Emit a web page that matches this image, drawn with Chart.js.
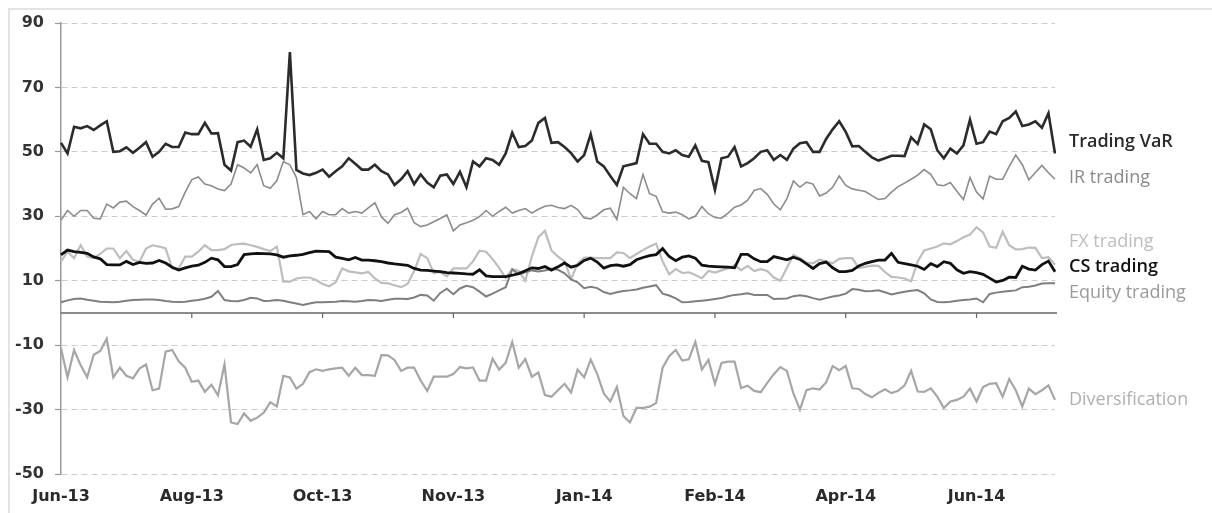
<!DOCTYPE html>
<html><head><meta charset="utf-8">
<script src="https://cdn.jsdelivr.net/npm/chart.js@4.4.1/dist/chart.umd.min.js"></script>
<style>
html,body{margin:0;padding:0;background:#fff;}
#wrap{position:relative;width:1212px;height:513px;overflow:hidden;}
#frame{position:absolute;left:8px;top:8px;width:1230px;height:530px;border-top:2px solid #e3e3e3;border-left:2px solid #e3e3e3;pointer-events:none;}
canvas{position:absolute;left:0;top:0;}
</style></head><body>
<div id="wrap"><canvas id="c" width="1212" height="513"></canvas><div id="frame"></div></div>
<script>
const tickLabels = ['Jun-13','Aug-13','Oct-13','Nov-13','Jan-14','Feb-14','Apr-14','Jun-14'];
const pointsPerTick = 20;

const tradingVaR = [
52.8,49.5,57.8,57.3,58,56.8,58.2,59.5,50,50.2,
51.4,49.7,51.3,53,48.5,50,52.5,51.5,51.5,56,
55.5,55.5,59,55.7,55.8,46,44.2,53,53.5,51.6,
57,47.5,48,49.7,48,81,44.4,43.3,42.8,43.5,
44.5,42.3,44,45.5,48,46.3,44.5,44.5,46,44,
43,39.7,41.5,44,40,43,40.5,39,42.6,43,
40,43.8,39,47,45.5,48,47.5,46,49.5,56,
51.5,51.8,53.5,59,60.5,52.8,53,51.5,49.6,47,
49,55.5,47,45.5,42.5,39.7,45.5,46,46.5,55.5,
52.5,52.5,50,49.5,50.5,49,48.5,52,47.2,46.8,
38.2,48,48.5,51.5,45.5,46.5,48,50,50.5,47.5,
49,47.5,51,52.7,53,50,50,54,57,59.5,
56.2,51.7,51.8,50,48.3,47.3,48,48.8,48.8,48.7,
54.5,52.5,58.5,57,50.5,48,51,49.5,52,60,
52.5,53,56.3,55.5,59.5,60.5,62.5,58,58.5,59.5,
57.5,62,49.5];

const irTrading = [
28.8,31.8,30,31.8,31.8,29.4,29.2,33.8,32.6,34.4,
34.7,33,31.8,30.4,33.8,35.6,32.2,32.3,33,37.5,
41.4,42.2,40,39.5,38.5,38,40,46,45,43.5,
46,39.5,38.7,41,47,46,42,30.5,31.5,29.2,
31.5,30.5,30.5,32.4,31,31.5,31,32.6,34.2,29.8,
27.8,30.5,31.2,32.5,28,26.8,27.3,28.3,29.3,30.4,
25.5,27.3,28,28.8,29.9,31.8,30,31.5,32.8,31,
31.8,32.4,31,32.2,33.1,33.4,32.7,32.4,33.4,32.1,
29.5,29.2,30.4,32,32.5,29,39,37,35.5,43,
37,36.2,31.4,31,31.3,30.5,29.2,30,33,30.8,
29.6,29.4,31,32.8,33.5,35,38,38.6,36.8,33.8,
32,35.5,41,39,40.6,40,36.3,37.2,39,42.5,
39.6,38.5,38.1,37.7,36.4,35.2,35.5,37.5,39.2,40.3,
41.5,42.8,44.5,43,39.8,39.5,40.5,37.8,35.2,42,
37.5,35.4,42.5,41.5,41.5,45.5,49,46,41.3,43.6,
45.8,43.5,41.5];

const fxTrading = [
15.9,19,17,21,17.5,17,18.3,20,20,17,
19.2,16.5,15.9,20,21,20.6,20,13.8,13.8,17.5,
17.5,19,21,19.5,19.5,19.8,21.1,21.4,21.5,21,
20.5,19.8,19.2,20.6,9.7,9.7,10.7,11,11,10.2,
9,8.3,9.5,13.8,12.9,12.6,12.3,12.7,10.7,9.3,
9.2,8.6,8,9,13,18.3,17,12.4,12.7,11.4,
13.8,13.8,13.8,16,19.3,19,16.7,14,10.8,13.6,
13,10,17.5,23.5,25.5,19.4,17.5,16,10.5,15.3,
17.2,17.2,17,17,17,18.8,18.6,17,18.3,19.5,
20.6,21.5,16,12,13.6,12.4,12.6,11.8,10.8,13,
12.5,13.2,13.9,14.8,13.3,14.6,13,13.6,13,11,
10,14,18,17,15.6,15.4,16.5,16,15.4,16.8,
17,17,13.9,14.3,14.7,14.6,12.7,11.2,11,10.7,
9.8,16,19.4,20,20.6,21.6,21.3,22.3,23.5,24.3,
26.6,25,20.6,20.2,25.2,21,19.7,19.8,20.3,20.2,
17,17.3,15];

const csTrading = [
18,19.5,19,18.8,18.5,17.4,16.8,15,14.9,14.9,
16,15,15.7,15.4,15.5,16.3,15.5,14.2,13.3,14,
14.5,14.8,15.7,17,16.5,14.4,14.4,15,18.1,18.3,
18.5,18.4,18.3,18,17.3,17.7,17.9,18.2,18.7,19.2,
19.1,19,17.3,16.9,16.5,17.2,16.4,16.4,16.2,15.9,
15.5,15.2,15,14.8,13.8,13.3,13.2,13,12.8,12.5,
12.4,12.3,12.1,12,13.4,11.5,11.3,11.3,11.3,11.7,
12.2,13.1,14,13.8,14.4,13.3,14.3,15.5,14.2,14.8,
16.3,17,15.8,13.9,14.7,14.9,14.5,15,16.5,17.2,
17.8,18.1,20,17.5,16.2,17.3,17.7,17,14.8,14.5,
14.4,14.3,14.2,14,18.2,18.2,16.8,15.9,15.9,17.5,
17,16.5,17.3,16.6,15.2,13.8,15.3,15.8,14,12.8,
12.8,13.2,14.6,15.4,15.9,16.4,16.4,18.5,15.7,15.3,
14.9,14.5,13.5,15.3,14.4,15.9,15.4,13.4,12.3,12.8,
12.5,12,10.8,9.6,10.1,11.1,11,14.5,13.6,13.3,
15,16.1,12.8];

const equityTrading = [
3.3,3.9,4.3,4.5,4.1,3.8,3.5,3.4,3.3,3.5,
3.8,4,4.1,4.2,4.2,4,3.7,3.5,3.4,3.5,
3.8,4,4.4,5,6.8,4,3.7,3.6,4,4.7,
4.5,3.7,3.8,4,3.8,3.3,2.9,2.5,2.9,3.3,
3.3,3.4,3.5,3.7,3.6,3.5,3.7,4,3.9,3.7,
4.1,4.4,4.4,4.3,4.8,5.6,5.4,3.8,6.2,7.5,
5.8,7.6,8.4,8,6.6,5.1,6,7,8,13.5,
12,12.6,13.2,12.9,13.2,13.7,13.4,12.3,10.4,9.5,
7.7,8.1,7.7,6.5,5.9,6.4,6.8,7,7.3,7.8,
8.2,8.6,6,5.4,4.5,3.3,3.4,3.6,3.8,4,
4.3,4.6,5.2,5.6,5.8,6.1,5.6,5.6,5.6,4.3,
4.4,4.5,5.2,5.5,5.2,4.6,4.1,4.6,5.1,5.4,
6,7.4,7.2,6.7,6.8,7,6.4,5.7,6.2,6.6,
6.9,7.1,6.1,4.2,3.4,3.3,3.5,3.8,4,4.2,
4.5,3.3,5.9,6.3,6.6,6.8,7,8,8.1,8.5,
9.1,9.2,9.2];

const diversification = [
-11,-20,-11.5,-16.2,-20,-13,-11.8,-8,-20,-17,
-19.5,-20.3,-17.3,-16,-24,-23.5,-12,-11.5,-15,-17,
-21.4,-21,-24.5,-22.3,-25.6,-16,-34,-34.5,-31.2,-33.5,
-32.5,-31,-27.7,-29,-19.5,-20,-23.5,-22,-18.4,-17.5,
-18,-17.5,-17.2,-17,-19.5,-17,-19.3,-19.3,-19.5,-13.1,
-13.2,-14.6,-18,-17,-17,-21,-24.2,-19.8,-19.8,-19.8,
-19,-16.8,-17.2,-16.9,-21,-21,-14.2,-17.6,-15.5,-9,
-17,-14.3,-19.8,-18.5,-25.5,-26,-24,-22,-24.7,-17.6,
-20,-14.5,-19,-25,-27.5,-23,-32,-34,-29.5,-29.5,
-29.1,-28,-17,-13.4,-11.5,-14.8,-14.4,-9,-17.6,-14.6,
-22,-15.5,-15.1,-15.1,-23.3,-22.6,-24.2,-24.6,-21.7,-19,
-16.8,-18,-25,-30,-24,-23.4,-23.8,-21.6,-16.5,-17.8,
-16.5,-23.4,-23.6,-25.2,-26.2,-24.8,-23.7,-24.9,-24.2,-22.5,
-18,-24.4,-24.5,-23.4,-26,-29.5,-27.5,-27,-26,-23.5,
-27.5,-23,-22,-21.8,-26,-20.5,-24,-29,-23.5,-25.2,
-24,-22.5,-27];

const labels = tradingVaR.map((v, i) =>
  (i % pointsPerTick === 0 && tickLabels[i / pointsPerTick]) ? tickLabels[i / pointsPerTick] : '');

Chart.defaults.font.family = '"DejaVu Sans", sans-serif';

const overlay = {
  id: 'overlay',
  beforeDatasetsDraw(chart) {
    const {ctx, chartArea: a, scales: {x, y}} = chart;
    const y0 = y.getPixelForValue(0);
    ctx.save();
    ctx.strokeStyle = '#666';
    ctx.lineWidth = 1.6;
    ctx.beginPath(); ctx.moveTo(a.left, y0); ctx.lineTo(a.right + 2, y0); ctx.stroke();
    ctx.lineWidth = 1.2;
    chart.data.labels.forEach((l, i) => {
      if (l && i > 0) {
        const px = x.getPixelForValue(i);
        ctx.beginPath(); ctx.moveTo(px, y0); ctx.lineTo(px, y0 + 5); ctx.stroke();
      }
    });
    ctx.restore();
  },
  afterDatasetsDraw(chart) {
    const {ctx, chartArea: a, scales: {y}} = chart;
    ctx.save();
    ctx.textBaseline = 'middle';
    ctx.textAlign = 'left';
    chart.data.datasets.forEach(ds => {
      ctx.font = ds.labelWeight + ' 18px "Open Sans"';
      ctx.fillStyle = ds.labelColor;
      ctx.fillText(ds.label, a.right + 14, y.getPixelForValue(ds.labelAt));
    });
    ctx.restore();
  }
};

const mk = (label, data, color, width, order, labelAt, labelColor, labelWeight) => ({
  label, data, borderColor: color, borderWidth: width, order, labelAt, labelColor, labelWeight,
  pointRadius: 0, tension: 0, fill: false, borderJoinStyle: 'miter'
});

new Chart(document.getElementById('c'), {
  type: 'line',
  data: {
    labels,
    datasets: [
      mk('Trading VaR', tradingVaR, '#2b2b2b', 2.6, 1, 53.1, '#2a2a2a', '600'),
      mk('IR trading', irTrading, '#8c8c8c', 1.6, 3, 41.9, '#8a8a8a', '400'),
      mk('FX trading', fxTrading, '#bdbdbd', 2.2, 4, 22, '#bdbdbd', '400'),
      mk('CS trading', csTrading, '#111111', 2.8, 0, 14.3, '#111', '600'),
      mk('Equity trading', equityTrading, '#7f7f7f', 2, 2, 6.2, '#9a9a9a', '400'),
      mk('Diversification', diversification, '#a6a6a6', 2.2, 5, -27, '#b0b0b0', '400')
    ]
  },
  options: {
    responsive: false,
    animation: false,
    events: [],
    layout: { padding: { top: 23, right: 157, left: 0, bottom: 0 } },
    plugins: { legend: { display: false }, tooltip: { enabled: false } },
    scales: {
      x: {
        type: 'category',
        offset: false,
        grid: { display: false, drawTicks: false },
        border: { display: false },
        ticks: { autoSkip: false, maxRotation: 0, minRotation: 0, padding: 13, color: '#2a2a2a', font: { size: 16, weight: 'bold' } },
        afterFit: s => { s.height = 39; }
      },
      y: {
        min: -50, max: 90,
        ticks: { stepSize: 20, color: '#333', font: { size: 16, weight: 'bold' }, padding: 11 },
        grid: { color: '#cccccc', lineWidth: 1, drawTicks: true, tickLength: 6, tickColor: '#999', tickWidth: 1.2 },
        border: { display: true, color: '#999', width: 1.5, dash: [6, 4] },
        afterFit: s => { s.width = 61; }
      }
    }
  },
  plugins: [overlay]
});
</script>
</body></html>
